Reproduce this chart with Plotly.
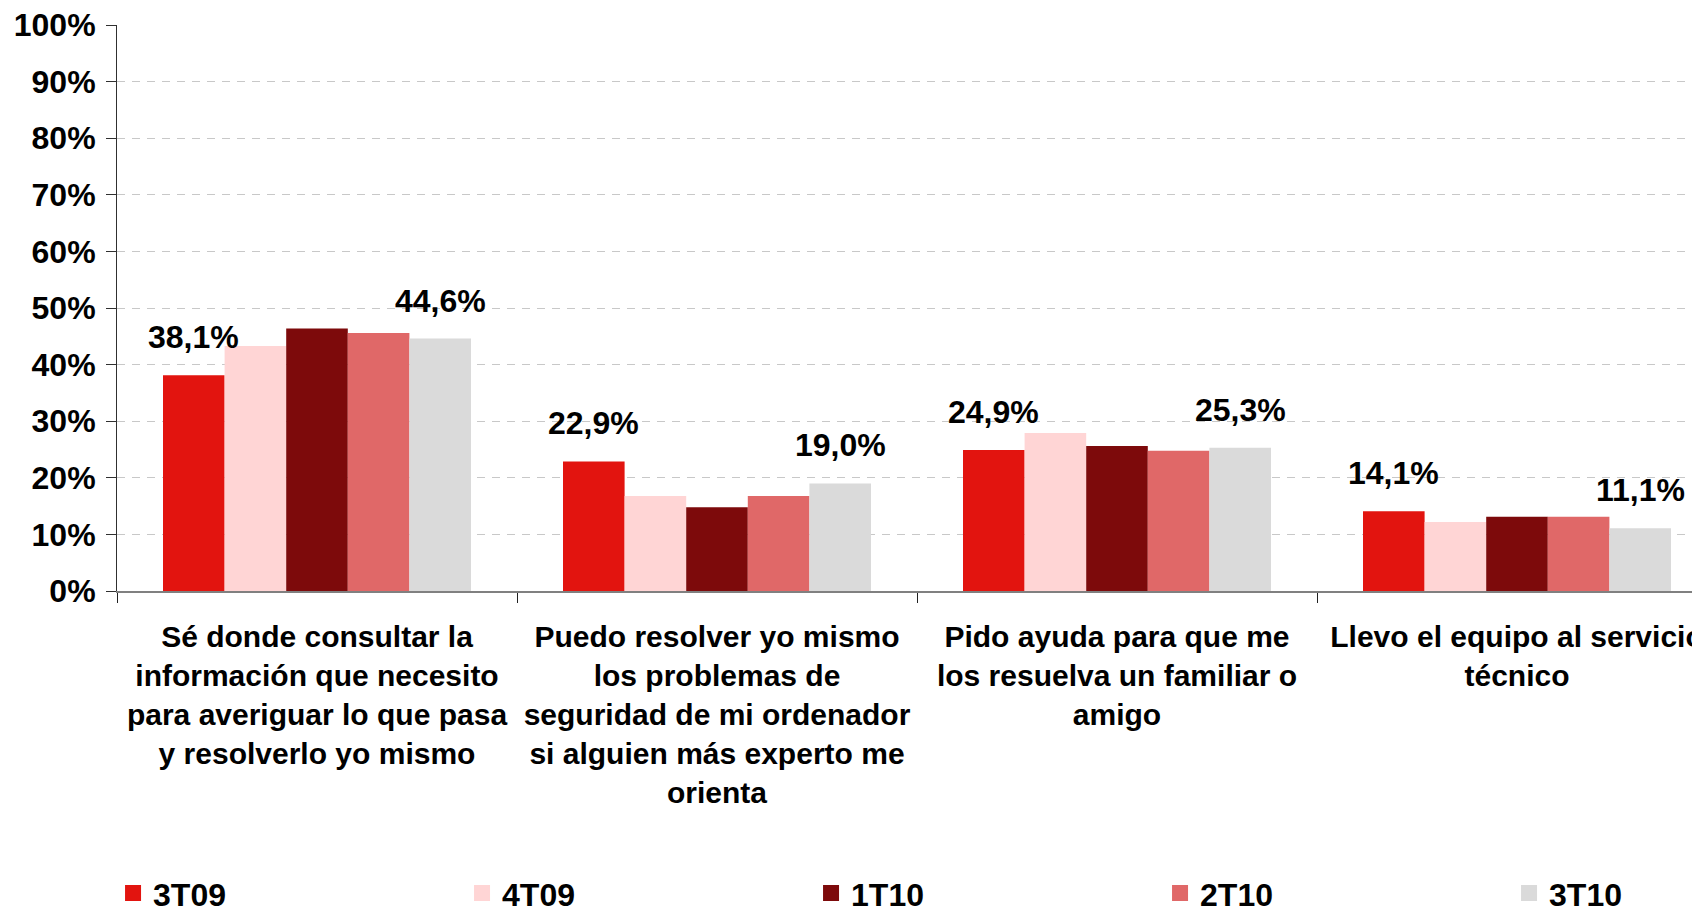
import plotly.graph_objects as go

categories = [
    "Sé donde consultar la<br>información que necesito<br>para averiguar lo que pasa<br>y resolverlo yo mismo",
    "Puedo resolver yo mismo<br>los problemas de<br>seguridad de mi ordenador<br>si alguien más experto me<br>orienta",
    "Pido ayuda para que me<br>los resuelva un familiar o<br>amigo",
    "Llevo el equipo al servicio<br>técnico",
]
series_names = ["3T09", "4T09", "1T10", "2T10", "3T10"]
v_3T09 = [38.1, 22.9, 24.9, 14.1]
v_4T09 = [43.3, 16.8, 27.9, 12.2]
v_1T10 = [46.4, 14.8, 25.6, 13.1]
v_2T10 = [45.6, 16.8, 24.8, 13.1]
v_3T10 = [44.6, 19.0, 25.3, 11.1]
series_values = [v_3T09, v_4T09, v_1T10, v_2T10, v_3T10]
labeled_series = ["3T09", "3T10"]
y_ticks = list(range(0, 101, 10))

colors = ["#E2140F", "#FFD5D5", "#7D0A0B", "#E06868", "#DADADA"]
FONT = "Liberation Sans, Arial, sans-serif"
BARGAP = 0.23

fig = go.Figure()
n = len(series_names)
for i, (name, vals) in enumerate(zip(series_names, series_values)):
    fig.add_trace(go.Bar(
        name=name, x=categories, y=vals,
        marker=dict(color=colors[i], line=dict(width=0)),
        showlegend=False, legendgroup=name,
    ))
# legend entries (larger square swatches)
for i, name in enumerate(series_names):
    fig.add_trace(go.Scatter(
        name=name, x=[None], y=[None], mode="markers",
        marker=dict(symbol="square", size=16, color=colors[i]),
        legendgroup=name, legendwidth=(100 if i == n - 1 else 304),
        hoverinfo="skip",
    ))

annotations = []
slot = (1 - BARGAP) / n
for i, (name, vals) in enumerate(zip(series_names, series_values)):
    if name not in labeled_series:
        continue
    for c, v in enumerate(vals):
        annotations.append(dict(
            x=c + (i - (n - 1) / 2) * slot, y=v, xref="x", yref="y",
            text=f"{v:.1f}%".replace(".", ","), showarrow=False,
            yanchor="bottom", yshift=18,
            font=dict(family=FONT, size=32, color="black", weight="bold"),
        ))

fig.update_layout(
    width=1692, height=903,
    margin=dict(l=109, r=0, t=17, b=320, autoexpand=False),
    paper_bgcolor="white", plot_bgcolor="white",
    barmode="group", bargap=BARGAP, bargroupgap=0,
    font=dict(family=FONT, size=30, color="black", weight="bold"),
    annotations=annotations,
    legend=dict(
        orientation="h", x=-0.0025, xanchor="left", y=-0.534, yanchor="middle",
        entrywidthmode="pixels", entrywidth=304, itemsizing="trace",
        font=dict(family=FONT, size=32, color="black", weight="bold"),
        bgcolor="rgba(0,0,0,0)", traceorder="normal",
    ),
    showlegend=True,
)
fig.update_xaxes(
    range=[-0.5, -0.5 + 1583 / 400],
    showline=True, linecolor="#808080", linewidth=1.5,
    ticks="outside", tickson="boundaries", ticklen=10, tickcolor="#202020",
    tickfont=dict(family=FONT, size=30, color="black", weight="bold"),
    showgrid=False, automargin=False, tickangle=0, ticklabelstandoff=18,
)
fig.update_yaxes(
    range=[0, 100], tickvals=y_ticks, ticktext=[f"{t}%" for t in y_ticks],
    showline=True, linecolor="#303030", linewidth=1,
    ticks="outside", ticklen=10, tickcolor="#303030",
    showgrid=True, gridcolor="#C8C8C8", gridwidth=1, griddash="8px,7px",
    zeroline=False, ticklabeloverflow="allow",
    tickfont=dict(family=FONT, size=32, color="black", weight="bold"),
    automargin=False, ticklabelstandoff=4,
)
fig.write_html("out.html")
